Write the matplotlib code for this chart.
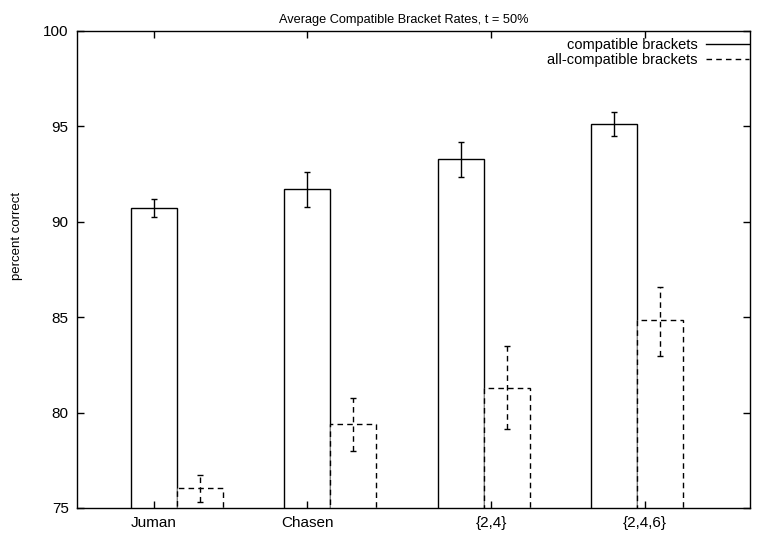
import numpy as np
import matplotlib.pyplot as plt
from matplotlib.lines import Line2D

plt.rcParams['font.family'] = ['Liberation Sans', 'DejaVu Sans']

# datos
categorias = ["Juman", "Chasen", "{2,4}", "{2,4,6}"]
tick_pos = [0.15, 1.15, 2.35, 3.35]

compat = [90.74, 91.72, 93.27, 95.14]
compat_lo = [90.25, 90.80, 92.36, 94.50]
compat_hi = [91.21, 92.60, 94.18, 95.74]

allcompat = [76.07, 79.39, 81.27, 84.83]
allcompat_lo = [75.33, 77.97, 79.14, 82.97]
allcompat_hi = [76.75, 80.78, 83.47, 86.60]

x = np.arange(len(categorias))
w = 0.3
dash = (0, (4, 3))

fig = plt.figure(figsize=(7.59, 5.37), dpi=100)
ax = fig.add_axes([77/759, 1 - 508/537, (750 - 77)/759, (508 - 31)/537])

# barras
ax.bar(x, compat, width=w, align='edge', facecolor='white', edgecolor='black',
       linewidth=1.0)
ax.bar(x + w, allcompat, width=w, align='edge', facecolor='white', edgecolor='black',
       linewidth=1.0, linestyle=dash)

# barras de error
c = np.array(compat)
a = np.array(allcompat)
ax.errorbar(x + w/2, c, yerr=[c - np.array(compat_lo), np.array(compat_hi) - c],
            fmt='none', ecolor='black', elinewidth=1.0, capsize=2.5, capthick=1.0)
eb = ax.errorbar(x + 1.5*w, a, yerr=[a - np.array(allcompat_lo), np.array(allcompat_hi) - a],
                 fmt='none', ecolor='black', elinewidth=1.0, capsize=2.5, capthick=1.0)
eb[2][0].set_linestyle(dash)

ax.set_xlim(-0.352, 4.037)
ax.set_ylim(75, 100)
ax.set_xticks(tick_pos)
ax.set_xticklabels(categorias)
ax.set_yticks([75, 80, 85, 90, 95, 100])
ax.tick_params(direction='in', length=5, width=1, top=True, right=True,
               labelsize=11, pad=6)
for s in ax.spines.values():
    s.set_linewidth(1.0)

ax.set_ylabel("percent correct", fontsize=9.5)
ax.yaxis.set_label_coords(-0.080, 0.57)
ax.set_title("Average Compatible Bracket Rates, t = 50%", fontsize=9.2, pad=6, x=0.486)

# leyenda
handles = [Line2D([], [], color='black', linewidth=1.0),
           Line2D([], [], color='black', linewidth=1.0, linestyle=dash)]
etiquetas = ["compatible brackets", "all-compatible brackets"]
leg = ax.legend(handles, etiquetas, loc='upper right', bbox_to_anchor=(1.006, 0.996),
                frameon=False, markerfirst=False,
                fontsize=10.5, handlelength=2.95, handletextpad=0.55, labelspacing=0.05,
                borderaxespad=0.0, borderpad=0.35)

plt.savefig("out.png", dpi=100)
